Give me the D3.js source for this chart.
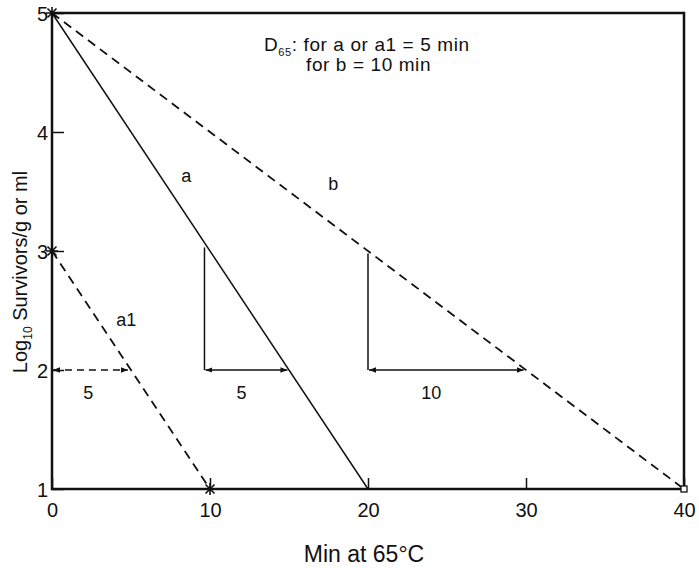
<!DOCTYPE html>
<html>
<head>
<meta charset="UTF-8">
<title>D value</title>
<style>
body, html {
	margin: 0;
	padding: 0;
	background: #ffffff;
	overflow: hidden;
}
svg text {
	font-family: 'Liberation Sans', Arial, sans-serif;
	fill: #111;
}
</style>
</head>
<body>
<div id="chart"></div>
<script src="https://cdn.jsdelivr.net/npm/d3@7"></script>
<script>
// data
var xTicks = [0, 10, 20, 30, 40];
var yTicks = [1, 2, 3, 4, 5];

var lineA = [[0, 5], [20, 1]];
var lineB = [[0, 5], [40, 1]];
var lineA1 = [[0, 3], [10, 1]];

var starPoints = [[0, 5], [0, 3], [10, 1]];
var squarePoints = [[40, 1]];

// vertical drop lines of the D-value triangles
var drops = [[9.65, 3.03, 2], [20, 2.98, 2]];
// double arrows: x0, x1, y, dashed
var arrows = [[9.65, 14.9, 2, false], [20, 29.85, 2, false], [0, 4.8, 2, true]];
var arrowLabels = [["5", 12.0, 1.76], ["5", 2.3, 1.76], ["10", 24.0, 1.76]];
var lineLabels = [["a", 8.5, 3.58], ["b", 17.8, 3.51], ["a1", 4.7, 2.37]];

var width = 699;
var height = 568;

var svg = d3.select("#chart").append("svg")
	.attr("width", width)
	.attr("height", height);

var x = d3.scaleLinear().domain([0, 40]).range([52, 684]);
var y = d3.scaleLinear().domain([1, 5]).range([489, 13]);

var line = d3.line().x(function(d) {return x(d[0])}).y(function(d) {return y(d[1])});

svg.append("defs").append("marker")
	.attr("id", "head")
	.attr("viewBox", "0 0 10 10")
	.attr("refX", 10).attr("refY", 5)
	.attr("markerWidth", 7).attr("markerHeight", 7)
	.attr("markerUnits", "userSpaceOnUse")
	.attr("orient", "auto-start-reverse")
	.append("path").attr("d", "M0,1 L10,5 L0,9 Z").attr("fill", "#111");

// axes, ticks pointing inwards
var xAxis = svg.append("g").attr("transform", "translate(0," + y(1) + ")")
	.call(d3.axisBottom(x).tickValues(xTicks).tickSize(-11).tickPadding(21).tickFormat(d3.format("d")));
var yAxis = svg.append("g").attr("transform", "translate(" + x(0) + ",0)")
	.call(d3.axisLeft(y).tickValues(yTicks).tickSize(-12).tickPadding(4).tickFormat(d3.format("d")));

[xAxis, yAxis].forEach(function(a) {
	a.select(".domain").remove();
	a.selectAll(".tick line").attr("stroke", "#111").attr("stroke-width", 1.5);
	a.selectAll(".tick text").attr("font-size", 20).attr("fill", "#111")
		.style("font-family", "'Liberation Sans', Arial, sans-serif");
});
xAxis.selectAll(".tick text").attr("dy", "0.35em");
yAxis.selectAll(".tick text").attr("dy", "0.36em");

svg.append("rect")
	.attr("x", x(0)).attr("y", y(5))
	.attr("width", x(40) - x(0)).attr("height", y(1) - y(5))
	.attr("fill", "none").attr("stroke", "#111").attr("stroke-width", 2.5);

// survivor curves
svg.append("path").datum(lineA).attr("d", line)
	.attr("fill", "none").attr("stroke", "#111").attr("stroke-width", 1.5);
svg.append("path").datum(lineB).attr("d", line)
	.attr("fill", "none").attr("stroke", "#111").attr("stroke-width", 1.8).attr("stroke-dasharray", "9,6");
svg.append("path").datum(lineA1).attr("d", line)
	.attr("fill", "none").attr("stroke", "#111").attr("stroke-width", 1.8).attr("stroke-dasharray", "9,6");

// markers
svg.selectAll(".star").data(starPoints).enter().append("path")
	.attr("class", "star")
	.attr("transform", function(d) {return "translate(" + x(d[0]) + "," + y(d[1]) + ")"})
	.attr("d", "M-6,0H6M0,-6V6M-4.5,-4.5L4.5,4.5M-4.5,4.5L4.5,-4.5")
	.attr("stroke", "#111").attr("stroke-width", 1.6);
svg.selectAll(".sq").data(squarePoints).enter().append("rect")
	.attr("x", function(d) {return x(d[0]) - 3}).attr("y", function(d) {return y(d[1]) - 3})
	.attr("width", 6).attr("height", 6)
	.attr("fill", "#fff").attr("stroke", "#111").attr("stroke-width", 1.3);

// D value triangles
svg.selectAll(".drop").data(drops).enter().append("line")
	.attr("x1", function(d) {return x(d[0])}).attr("x2", function(d) {return x(d[0])})
	.attr("y1", function(d) {return y(d[1])}).attr("y2", function(d) {return y(d[2])})
	.attr("stroke", "#111").attr("stroke-width", 1.5);
svg.selectAll(".arrow").data(arrows).enter().append("line")
	.attr("x1", function(d) {return x(d[0]) + 1}).attr("x2", function(d) {return x(d[1])})
	.attr("y1", function(d) {return y(d[2])}).attr("y2", function(d) {return y(d[2])})
	.attr("stroke", "#111").attr("stroke-width", 1.5)
	.attr("stroke-dasharray", function(d) {return d[3] ? "7,5" : null})
	.attr("marker-start", "url(#head)").attr("marker-end", "url(#head)");

svg.selectAll(".alab").data(arrowLabels.concat(lineLabels)).enter().append("text")
	.attr("x", function(d) {return x(d[1])}).attr("y", function(d) {return y(d[2])})
	.attr("text-anchor", "middle").attr("font-size", 18)
	.text(function(d) {return d[0]});

// D value note
var note = svg.append("text").attr("x", 264).attr("y", 51).attr("font-size", 19).attr("letter-spacing", 0.6);
note.append("tspan").text("D");
note.append("tspan").attr("font-size", 11).attr("dy", 5).text("65");
note.append("tspan").attr("dy", -5).text(": for a or a1 = 5 min");
svg.append("text").attr("x", 306).attr("y", 71).attr("font-size", 19).attr("letter-spacing", 0.6)
	.text("for b = 10 min");

// axis titles
svg.append("text").attr("x", 364).attr("y", 562).attr("text-anchor", "middle")
	.attr("font-size", 23).text("Min at 65\u00B0C");
var yt = svg.append("text").attr("transform", "translate(27,272) rotate(-90)")
	.attr("text-anchor", "middle").attr("font-size", 20);
yt.append("tspan").text("Log");
yt.append("tspan").attr("font-size", 12).attr("dy", 5).text("10");
yt.append("tspan").attr("dy", -5).text(" Survivors/g or ml");
</script>
</body>
</html>
